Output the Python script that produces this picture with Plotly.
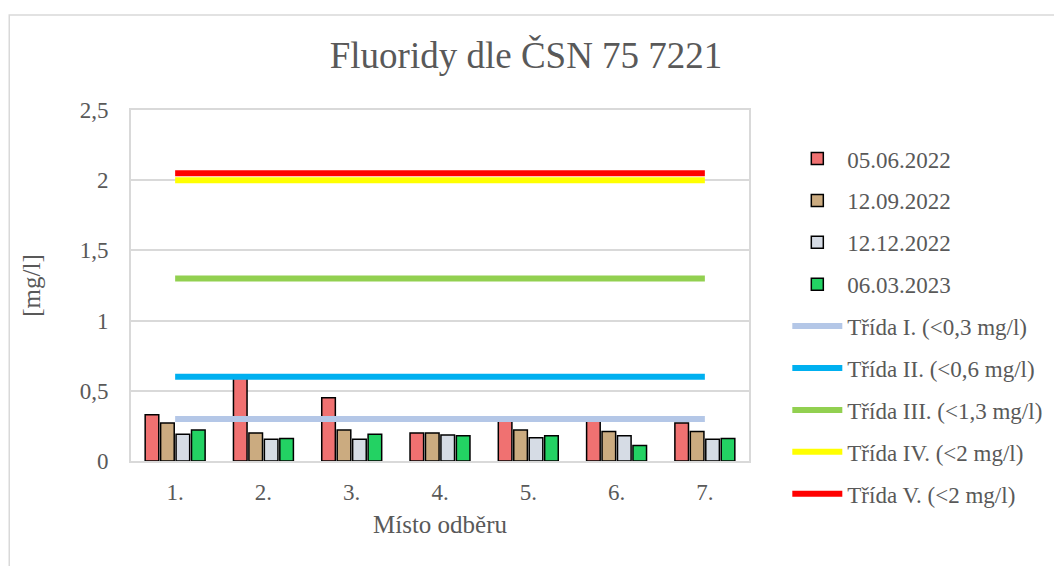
import plotly.graph_objects as go

sites = ["1.", "2.", "3.", "4.", "5.", "6.", "7."]

# fluoride values per sampling date [mg/l]
d_2022_06_05 = [0.33, 0.60, 0.45, 0.20, 0.30, 0.30, 0.27]
d_2022_09_12 = [0.27, 0.20, 0.22, 0.20, 0.22, 0.21, 0.21]
d_2022_12_12 = [0.19, 0.155, 0.155, 0.185, 0.165, 0.18, 0.155]
d_2023_03_06 = [0.22, 0.16, 0.19, 0.18, 0.18, 0.11, 0.16]

bar_names = ["05.06.2022", "12.09.2022", "12.12.2022", "06.03.2023"]
bar_series = [d_2022_06_05, d_2022_09_12, d_2022_12_12, d_2023_03_06]
bar_colors = ["#F07171", "#CBAB80", "#D6DCE5", "#23D263"]

class_names = [
    "Třída I. (<0,3 mg/l)",
    "Třída II. (<0,6 mg/l)",
    "Třída III. (<1,3 mg/l)",
    "Třída IV. (<2 mg/l)",
    "Třída V. (<2 mg/l)",
]
class_limits = [0.3, 0.6, 1.3, 2.0, 2.05]
class_colors = ["#B4C7E7", "#00B0F0", "#92D050", "#FFFF00", "#FF0000"]

FONT = "Liberation Serif, Times New Roman, serif"
GREY = "#595959"

fig = go.Figure()

for i, (name, vals, col) in enumerate(zip(bar_names, bar_series, bar_colors)):
    fig.add_trace(
        go.Bar(
            x=sites,
            y=vals,
            name=name,
            legendgroup=f"g{i}",
            marker={"color": col, "line": {"color": "#000000", "width": 1.5}},
        )
    )

for j, (name, lim, col) in enumerate(zip(class_names, class_limits, class_colors)):
    fig.add_trace(
        go.Scatter(
            x=sites,
            y=[lim] * len(sites),
            mode="lines",
            name=name,
            legendgroup=f"c{j}",
            line={"color": col, "width": 6},
        )
    )

# outer chart border
fig.add_shape(
    type="rect",
    xref="paper",
    yref="paper",
    x0=-0.197,
    x1=1.52,
    y0=-0.4,
    y1=1.2707,
    line={"color": "#D9D9D9", "width": 1.5},
    layer="below",
)

# the page body adds 8px on top/left, so the figure is 8px smaller
fig.update_layout(
    width=1054,
    height=558,
    margin={"l": 123, "r": 313, "t": 102, "b": 105, "autoexpand": False},
    paper_bgcolor="white",
    plot_bgcolor="white",
    separators=", ",
    font={"family": FONT, "color": GREY, "size": 23},
    title={
        "text": "Fluoridy dle ČSN 75 7221",
        "font": {"family": FONT, "color": GREY, "size": 37},
        "x": 0.4915,
        "xanchor": "center",
        "y": 0.916,
        "yanchor": "middle",
    },
    barmode="group",
    bargap=0.3,
    bargroupgap=0.12,
    showlegend=True,
    legend={
        "x": 1.062,
        "xanchor": "left",
        "y": 0.383,
        "yanchor": "middle",
        "yref": "paper",
        "tracegroupgap": 9,
        "itemwidth": 50,
        "maxheight": 600,
        "font": {"family": FONT, "color": GREY, "size": 23},
    },
    xaxis={
        "title": {"text": "Místo odběru", "font": {"size": 25}, "standoff": 12},
        "automargin": False,
        "showline": True,
        "linecolor": "#D9D9D9",
        "linewidth": 2,
        "mirror": True,
        "ticks": "outside",
        "ticklen": 9,
        "tickcolor": "rgba(0,0,0,0)",
        "tickfont": {"size": 23},
    },
    yaxis={
        "title": {"text": "[mg/l]", "font": {"size": 25}, "standoff": 32},
        "automargin": False,
        "range": [0, 2.5],
        "dtick": 0.5,
        "showgrid": True,
        "gridcolor": "#D9D9D9",
        "gridwidth": 1.5,
        "showline": True,
        "linecolor": "#D9D9D9",
        "linewidth": 2,
        "mirror": True,
        "zeroline": False,
        "ticks": "outside",
        "ticklen": 16,
        "tickcolor": "rgba(0,0,0,0)",
        "tickfont": {"size": 23},
    },
)

fig.write_html("out.html")
